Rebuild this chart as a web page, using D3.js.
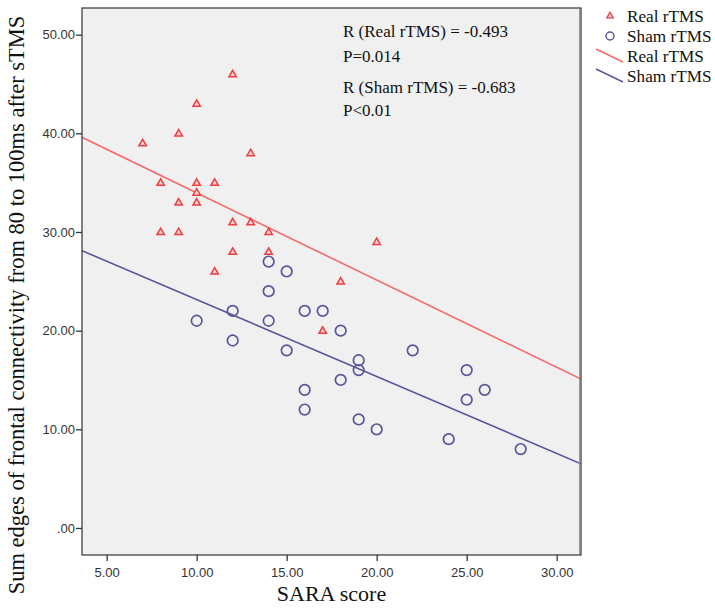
<!DOCTYPE html>
<html>
<head>
<meta charset="utf-8">
<script src="https://cdn.jsdelivr.net/npm/d3@7"></script>
<style>
  body { margin: 0; background: #fff; }
  svg { display: block; }
</style>
</head>
<body>
<svg id="chart" width="715" height="611"></svg>
<script>
// ---- data ----
const realX = [7, 8, 8, 9, 9, 9, 10, 10, 10, 10, 11, 11, 12, 12, 12, 13, 13, 14, 14, 17, 18, 20];
const realY = [39, 35, 30, 40, 33, 30, 43, 35, 34, 33, 35, 26, 46, 31, 28, 38, 31, 30, 28, 20, 25, 29];
const shamX = [10, 12, 12, 14, 14, 14, 15, 15, 16, 16, 16, 17, 18, 18, 19, 19, 19, 20, 22, 24, 25, 25, 26, 28];
const shamY = [21, 22, 19, 27, 24, 21, 26, 18, 22, 14, 12, 22, 20, 15, 17, 16, 11, 10, 18, 9, 16, 13, 14, 8];
// fit lines (intercept, slope) as drawn in the reference
const fitNames = ["Real rTMS", "Sham rTMS"];
const fitIntercept = [42.81, 30.93];
const fitSlope = [-0.884, -0.779];
const xTicks = [5, 10, 15, 20, 25, 30];
const yTicks = [0, 10, 20, 30, 40, 50];
const annotations = ["R (Real rTMS) = -0.493", "P=0.014", "R (Sham rTMS) = -0.683", "P<0.01"];
const legendLabels = ["Real rTMS", "Sham rTMS", "Real rTMS", "Sham rTMS"];

// ---- layout ----
const svg = d3.select("#chart");
const L = 82, R = 581, T = 8, B = 555;
const xDomain = [3.63, 31.35];
const yDomain = [-2.74, 52.7];
const x = d3.scaleLinear().domain(xDomain).range([L, R]);
const y = d3.scaleLinear().domain(yDomain).range([B, T]);

const redMark = "#f03c3c";
const redLine = "#f46a6a";
const blue = "#56569c";
const serif = "'Liberation Serif', 'Times New Roman', serif";
const sans = "'Liberation Sans', Arial, sans-serif";

// plot background
svg.append("rect").attr("x", L).attr("y", T).attr("width", R - L).attr("height", B - T)
  .attr("fill", "#f0f0f0");

svg.append("clipPath").attr("id", "clip")
  .append("rect").attr("x", L).attr("y", T).attr("width", R - L).attr("height", B - T);

// fit lines
const fitColors = [redLine, blue];
const g = svg.append("g").attr("clip-path", "url(#clip)");
fitNames.forEach((n, i) => {
  g.append("line")
    .attr("x1", x(xDomain[0])).attr("y1", y(fitIntercept[i] + fitSlope[i] * xDomain[0]))
    .attr("x2", x(xDomain[1])).attr("y2", y(fitIntercept[i] + fitSlope[i] * xDomain[1]))
    .attr("stroke", fitColors[i]).attr("stroke-width", 1.6);
});

// sham circles
g.selectAll("circle.sham").data(shamX.map((v, i) => [v, shamY[i]])).enter()
  .append("circle").attr("class", "sham")
  .attr("cx", d => x(d[0])).attr("cy", d => y(d[1])).attr("r", 5.3)
  .attr("fill", "none").attr("stroke", blue).attr("stroke-width", 1.7);

// real triangles
const tri = d3.symbol().type(d3.symbolTriangle).size(24);
g.selectAll("path.real").data(realX.map((v, i) => [v, realY[i]])).enter()
  .append("path").attr("class", "real")
  .attr("d", tri)
  .attr("transform", d => `translate(${x(d[0])},${y(d[1]) + 0.5})`)
  .attr("fill", "#fbd6d6").attr("stroke", redMark).attr("stroke-width", 1.5);

// frame
svg.append("rect").attr("x", L).attr("y", T).attr("width", R - L).attr("height", B - T)
  .attr("fill", "none").attr("stroke", "#333").attr("stroke-width", 1.2);
svg.append("line").attr("x1", R - 1.5).attr("x2", R - 1.5).attr("y1", T + 1).attr("y2", B - 1)
  .attr("stroke", "#999").attr("stroke-width", 1);

// axes
const xAxis = d3.axisBottom(x).tickValues(xTicks).tickSize(6).tickSizeOuter(0)
  .tickFormat(d3.format(".2f"));
const yAxis = d3.axisLeft(y).tickValues(yTicks).tickSize(6).tickSizeOuter(0)
  .tickFormat(d => d === 0 ? ".00" : d3.format(".2f")(d));

const gx = svg.append("g").attr("transform", `translate(0,${B})`).call(xAxis);
const gy = svg.append("g").attr("transform", `translate(${L},0)`).call(yAxis);
[gx, gy].forEach(a => {
  a.select(".domain").remove();
  a.selectAll(".tick line").attr("stroke", "#333").attr("stroke-width", 1.3);
  a.selectAll(".tick text").attr("font-family", sans).attr("font-size", 13).attr("fill", "#333");
});
gx.selectAll(".tick text").attr("dy", "1.1em").attr("y", 8);
gy.selectAll(".tick text").attr("x", -7);

// axis titles
svg.append("text").attr("x", (L + R) / 2).attr("y", 601)
  .attr("text-anchor", "middle").attr("font-family", serif).attr("font-size", 22)
  .attr("fill", "#111").text("SARA score");
svg.append("text").attr("transform", "translate(24,305) rotate(-90)")
  .attr("text-anchor", "middle").attr("font-family", serif).attr("font-size", 22.5)
  .attr("fill", "#111").text("Sum edges of frontal connectivity from 80 to 100ms after sTMS");

// annotations
const annY = [37, 62, 93, 116];
svg.selectAll("text.ann").data(annotations).enter().append("text").attr("class", "ann")
  .attr("x", 343).attr("y", (d, i) => annY[i])
  .attr("font-family", serif).attr("font-size", 17).attr("fill", "#111").text(d => d);

// legend
const lg = svg.append("g");
const lgY = [16, 36, 56, 76];
lg.append("path").attr("d", d3.symbol().type(d3.symbolTriangle).size(18))
  .attr("transform", `translate(610,${lgY[0]})`)
  .attr("fill", "#fbd6d6").attr("stroke", redMark).attr("stroke-width", 1.3);
lg.append("circle").attr("cx", 610).attr("cy", lgY[1]).attr("r", 4)
  .attr("fill", "none").attr("stroke", blue).attr("stroke-width", 1.5);
lg.append("line").attr("x1", 596).attr("y1", lgY[2] - 7).attr("x2", 623).attr("y2", lgY[2] + 6)
  .attr("stroke", redLine).attr("stroke-width", 1.5);
lg.append("line").attr("x1", 596).attr("y1", lgY[3] - 7).attr("x2", 623).attr("y2", lgY[3] + 6)
  .attr("stroke", blue).attr("stroke-width", 1.5);
lg.selectAll("text").data(legendLabels).enter().append("text")
  .attr("x", 627).attr("y", (d, i) => lgY[i] + 6)
  .attr("font-family", serif).attr("font-size", 17.2).attr("fill", "#111").text(d => d);
</script>
</body>
</html>
